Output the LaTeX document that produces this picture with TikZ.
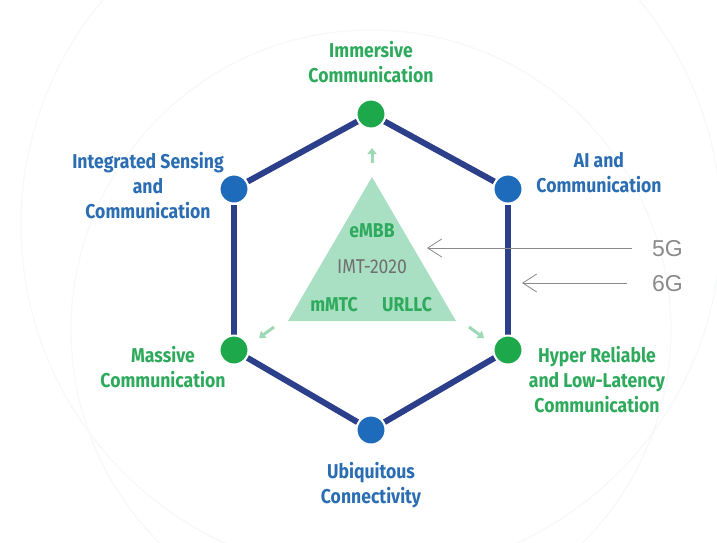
\documentclass[tikz,border=0pt]{standalone}
\usepackage{fontspec}
\setmainfont[FakeStretch=0.88]{Fira Sans}
\newfontfamily\arialf{Liberation Sans}
\usetikzlibrary{arrows.meta}
\definecolor{gtext}{HTML}{2EAA5C}
\definecolor{btext}{HTML}{2A6DB2}
\definecolor{gdot}{HTML}{1DA84C}
\definecolor{bdot}{HTML}{1D6BBA}
\definecolor{navy}{HTML}{2C3F8A}
\definecolor{tri}{HTML}{A9DFC2}
\definecolor{tarr}{HTML}{9ED9B6}
\definecolor{garr}{HTML}{8A8A8A}
\definecolor{imt}{HTML}{707070}
\definecolor{faint}{HTML}{F7F8F9}
\tikzset{
  x=1pt,y=-1pt,
  gdotst/.style={circle,fill=gdot,draw=white,line width=2pt,minimum size=29pt,inner sep=0pt},
  bdotst/.style={circle,fill=bdot,draw=white,line width=2pt,minimum size=29pt,inner sep=0pt},
  glabel/.style={align=center,text=gtext,font=\fontsize{20}{25}\selectfont\bfseries,inner sep=0pt},
  blabel/.style={align=center,text=btext,font=\fontsize{20}{25}\selectfont\bfseries,inner sep=0pt},
  trilabel/.style={text=gtext,font=\fontsize{20}{22}\selectfont\bfseries,inner sep=0pt},
  edge/.style={draw=navy,line width=6pt},
  smallarr/.style={draw=tarr,line width=3pt,-{Triangle[length=6pt,width=9pt]}},
  genarr/.style={draw=garr,line width=0.8pt,-{Straight Barb[length=14pt,width=18pt,line width=0.8pt]}},
  genlabel/.style={text=garr,font=\arialf\fontsize{23}{24}\selectfont,inner sep=0pt}
}
\begin{document}
\begin{tikzpicture}
\useasboundingbox (0,0) rectangle (717,542);
\fill[white] (0,0) rectangle (717,542);
% faint background arcs
\draw[faint,line width=1.2pt] (371,225) circle[radius=350];
\draw[faint,line width=1.2pt] (371,330) circle[radius=300];
% triangle
\coordinate (tA) at (372,177);
\coordinate (tB) at (288,321);
\coordinate (tC) at (456,321);
\fill[tri] (tA) -- (tB) -- (tC) -- cycle;
% hexagon vertices
\node[gdotst] (top) at (371,114) {};
\node[bdotst] (ur) at (508,189) {};
\node[gdotst] (lr) at (508,350) {};
\node[bdotst] (bot) at (371,430) {};
\node[gdotst] (ll) at (234,350) {};
\node[bdotst] (ul) at (234,189) {};
\draw[edge] (top) -- (ur);
\draw[edge] (ur) -- (lr);
\draw[edge] (lr) -- (bot);
\draw[edge] (bot) -- (ll);
\draw[edge] (ll) -- (ul);
\draw[edge] (ul) -- (top);
% redraw dots on top
\node[gdotst] at (top) {};
\node[bdotst] at (ur) {};
\node[gdotst] at (lr) {};
\node[bdotst] at (bot) {};
\node[gdotst] at (ll) {};
\node[bdotst] at (ul) {};
% small arrows
\coordinate (a1s) at (372,163);
\coordinate (a1e) at (372,148);
\coordinate (a2s) at (274,327);
\coordinate (a2e) at (259,338);
\coordinate (a3s) at (469,327);
\coordinate (a3e) at (484,338);
\draw[smallarr] (a1s) -- (a1e);
\draw[smallarr] (a2s) -- (a2e);
\draw[smallarr] (a3s) -- (a3e);
% triangle texts
\node[trilabel] (embb) at (372,231) {eMBB};
\node[text=imt,font=\fontsize{20}{22}\selectfont,inner sep=0pt] (imt) at (372,267) {IMT-2020};
\node[trilabel] (mmtc) at (334,305) {mMTC};
\node[trilabel] (urllc) at (407,305) {URLLC};
% outer labels
\node[glabel] (limm) at (371,62) {Immersive\\Communication};
\node[blabel] (lisc) at (148,186) {Integrated Sensing\\and\\Communication};
\node[blabel] (lai) at (599,173) {AI and\\Communication};
\node[glabel] (lmas) at (163,367) {Massive\\Communication};
\node[glabel] (lhrl) at (597,380) {Hyper Reliable\\and Low-Latency\\Communication};
\node[blabel] (lubi) at (371,485) {Ubiquitous\\Connectivity};
% 5G / 6G
\node[genlabel,anchor=west] (g5) at (652,249) {5G};
\node[genlabel,anchor=west] (g6) at (652,284) {6G};
\coordinate (g5s) at (632,248);
\coordinate (g6s) at (627,283);
\coordinate (g5e) at (427,248);
\coordinate (g6e) at (522,283);
\draw[genarr] (g5s) -- (g5e);
\draw[genarr] (g6s) -- (g6e);
\end{tikzpicture}
\end{document}
